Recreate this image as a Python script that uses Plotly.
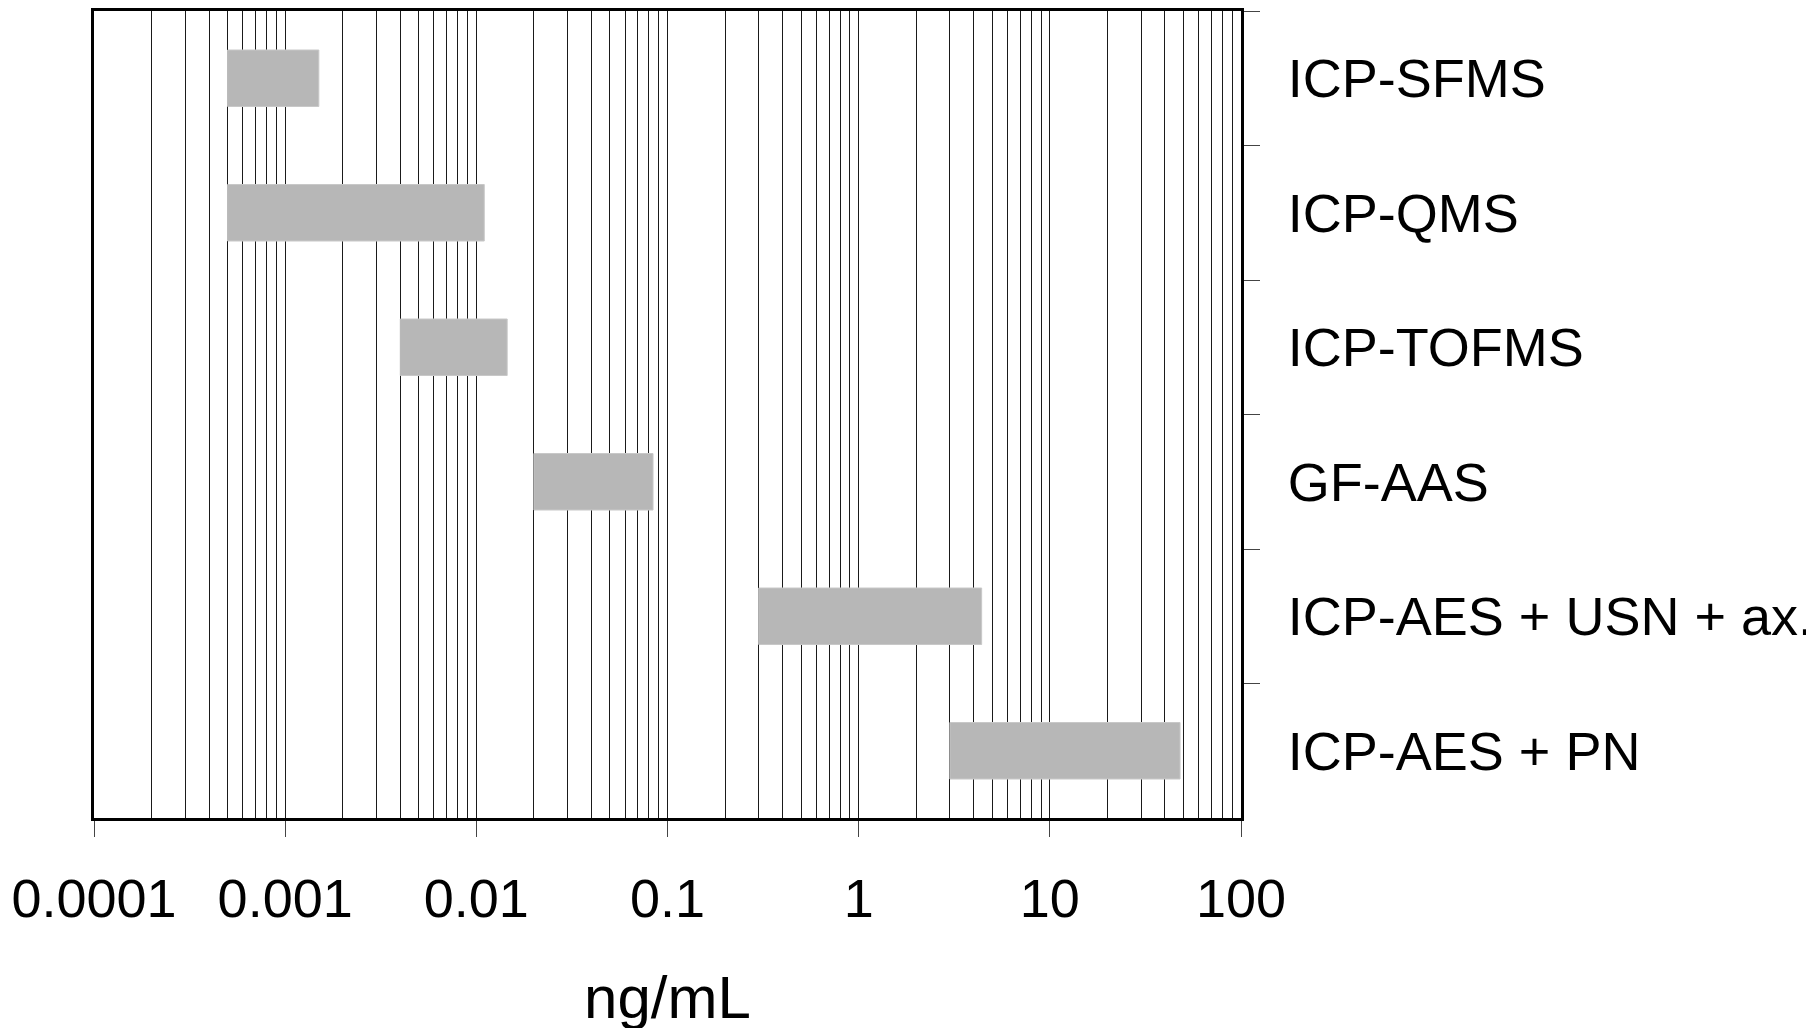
import plotly.graph_objects as go

methods = ["ICP-SFMS", "ICP-QMS", "ICP-TOFMS", "GF-AAS", "ICP-AES + USN + ax.", "ICP-AES + PN"]
low = [0.0005, 0.0005, 0.004, 0.02, 0.3, 3.0]
high = [0.0015, 0.011, 0.0145, 0.084, 4.4, 48.0]
tick_vals = [0.0001, 0.001, 0.01, 0.1, 1, 10, 100]
tick_text = ["0.0001", "0.001", "0.01", "0.1", "1", "10", "100"]

fig = go.Figure()
fig.add_trace(go.Bar(
    y=methods,
    x=[h - l for h, l in zip(high, low)],
    base=low,
    orientation="h",
    width=0.42,
    marker=dict(color="#b7b7b7", line=dict(width=1, color="#c8c8c8")),
    showlegend=False,
))

font = "Liberation Sans, Arial, sans-serif"
fig.update_layout(
    width=1814, height=1028,
    margin=dict(l=86, r=581, t=3, b=218, autoexpand=False),
    paper_bgcolor="white", plot_bgcolor="white",
    font=dict(family=font, color="black"),
    xaxis=dict(
        type="log",
        range=[-4, 2],
        tickvals=tick_vals,
        ticktext=tick_text,
        tickfont=dict(size=54, family=font, color="black"),
        ticks="outside", ticklen=16, tickwidth=1, tickcolor="#444",
        ticklabelstandoff=15,
        showgrid=True, gridcolor="#1a1a1a", gridwidth=1,
        minor=dict(dtick="D1", showgrid=True, gridcolor="#1a1a1a", gridwidth=1, ticks=""),
        showline=True, linecolor="black", linewidth=3, mirror=True,
        zeroline=False,
        title=dict(text="ng/mL", font=dict(size=60, family=font, color="black"), standoff=50),
        automargin=False,
    ),
    yaxis=dict(
        type="category",
        categoryorder="array", categoryarray=methods,
        autorange="reversed",
        side="right",
        tickson="boundaries",
        ticks="outside", ticklen=16, tickwidth=1, tickcolor="#444",
        tickfont=dict(size=54, family=font, color="black"),
        ticklabelstandoff=33,
        showgrid=False,
        showline=True, linecolor="black", linewidth=3, mirror=True,
        zeroline=False,
        automargin=False,
    ),
    bargap=0.58,
)

fig.write_html("out.html")
